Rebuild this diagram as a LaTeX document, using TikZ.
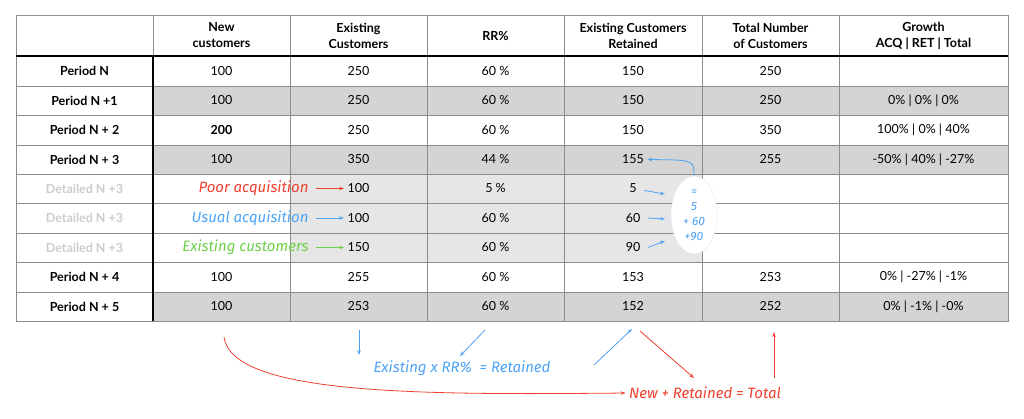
\documentclass[tikz,border=0pt]{standalone}
\usepackage{fontspec}
\setmainfont{Lato}
\newfontfamily\hand{Fira Sans}[ItalicFont={Fira Sans Italic}]
\usetikzlibrary{arrows.meta,shapes.geometric}
\definecolor{gdark}{HTML}{D4D4D4}
\definecolor{glight}{HTML}{E6E6E6}
\definecolor{hred}{HTML}{F0402F}
\definecolor{hblue}{HTML}{4DA3F5}
\definecolor{hgreen}{HTML}{6CD048}
\definecolor{gridc}{HTML}{8C8C8C}
\tikzset{
  cell/.style={font=\fontsize{12.5}{15}\selectfont, align=center, anchor=center},
  hd/.style={cell, font=\fontsize{12.5}{16}\selectfont\bfseries},
  hw/.style={font=\hand\itshape\fontsize{15}{17}\selectfont},
  harr/.style={-{Stealth[length=5pt,width=3.5pt]}, line width=0.8pt}
}
\begin{document}
\begin{tikzpicture}[x=1pt,y=-1pt]
\useasboundingbox (0,0) rectangle (1024,418);
% fills
\foreach \ya/\yb in {86/115,145/174,292/321}{
  \fill[gdark] (153,\ya) rectangle (1008,\yb);}
\fill[glight] (290,174) rectangle (702,262);
% grid
\foreach \x in {290,427,564,702,839}{ \draw[gridc,line width=0.6pt] (\x,15) -- (\x,321);}
\foreach \y in {86,115,145,174,203,233,262,292}{ \draw[gridc,line width=0.6pt] (16,\y) -- (1008,\y);}
\draw[gridc,line width=0.6pt] (16,15) rectangle (1008,321);
\draw[gridc,line width=0.6pt] (153,15) -- (153,56);
\draw[black,line width=1.6pt] (16,56) -- (1008,56);
\draw[black,line width=1.6pt] (153,56) -- (153,321);
% header
\node[hd] (h1) at (221.5,35.5) {New\\customers};
\node[hd] (h2) at (358.5,35.5) {Existing\\Customers};
\node[hd] (h3) at (495.5,35.5) {RR\%};
\node[hd] (h4) at (633,35.5) {Existing Customers\\Retained};
\node[hd] (h5) at (770.5,35.5) {Total Number\\of Customers};
\node[hd] (h6) at (923.5,35.5) {Growth\\ACQ | RET | Total};
% rows
\foreach \y/\lab/\a/\b/\c/\d/\e/\f [count=\i] in {
 71/Period N/100/250/60 \%/150/250/,
 100.5/Period N +1/100/250/60 \%/150/250/0\% | 0\% | 0\%,
 130/Period N + 2/\textbf{200}/250/60 \%/150/350/100\% | 0\% | 40\%,
 159.5/Period N + 3/100/350/44 \%/155/255/-50\% | 40\% | -27\%,
 277/Period N + 4/100/255/60 \%/153/253/0\% | -27\% | -1\%,
 306.5/Period N + 5/100/253/60 \%/152/252/0\% | -1\% | -0\%}{
  \node[hd] (r\i l) at (84.5,\y) {\lab};
  \node[cell] (r\i a) at (221.5,\y) {\a};
  \node[cell] (r\i b) at (358.5,\y) {\b};
  \node[cell] (r\i c) at (495.5,\y) {\c};
  \node[cell] (r\i d) at (633,\y) {\d};
  \node[cell] (r\i e) at (770.5,\y) {\e};
  \node[cell] (r\i f) at (923.5,\y) {\f};
}
% detailed rows
\foreach \y/\b/\c/\d [count=\i] in {188.5/100/5 \%/5, 218/100/60 \%/60, 247.5/150/60 \%/90}{
  \node[hd,text=black!20] (d\i l) at (84.5,\y) {Detailed N +3};
  \node[cell] (d\i b) at (358.5,\y) {\b};
  \node[cell] (d\i c) at (495.5,\y) {\c};
  \node[cell] (d\i d) at (633,\y) {\d};
}
% left handwritten labels
\node[hw,text=hred,anchor=east] (t1) at (312,188.5) {Poor acquisition};
\node[hw,text=hblue,anchor=east] (t2) at (312,218) {Usual acquisition};
\node[hw,text=hgreen,anchor=east] (t3) at (312,247.5) {Existing customers};
\draw[harr,hred] (t1.east) ++(4,0) coordinate (t1s) -- (d1b.west);
\draw[harr,hblue] (t2.east) ++(4,0) coordinate (t2s) -- (d2b.west);
\draw[harr,hgreen] (t3.east) ++(4,0) coordinate (t3s) -- (d3b.west);
% oval
\node[ellipse,draw=hblue!25,fill=white,minimum width=46pt,minimum height=78pt,inner sep=0pt] (ov) at (694,215) {};
\node[hw,text=hblue,align=center,font=\hand\itshape\fontsize{12}{15}\selectfont] (ovt) at (694,215) {=\\5\\+ 60\\+90};
\draw[harr,hblue] (d1d.east) ++(4,2) coordinate (s1) -- (665,194) coordinate (e1);
\draw[harr,hblue] (d2d.east) ++(4,0) coordinate (s2) -- (665,219) coordinate (e2);
\draw[harr,hblue] (d3d.east) ++(4,0) coordinate (s3) -- (665,241) coordinate (e3);
\draw[harr,hblue] (ov.north) .. controls (694,160) .. (r4d.east);
% bottom annotations
\node[hw,text=hblue] (f1) at (462,368) {Existing x RR\%\ \ = Retained};
\node[hw,text=hred] (f2) at (705,393) {New + Retained = Total};
\coordinate (a1) at (359,330); \coordinate (a1e) at (359,355);
\draw[harr,hblue] (a1) -- (a1e);
\coordinate (a2) at (485,330); \coordinate (a2e) at (460,356);
\draw[harr,hblue] (a2) -- (a2e);
\coordinate (a3) at (594,365); \coordinate (a3e) at (632,329);
\draw[harr,hblue] (a3) -- (a3e);
\coordinate (b1) at (640,331); \coordinate (b1e) at (694,378);
\draw[harr,hred] (b1) -- (b1e);
\coordinate (b2) at (774,378); \coordinate (b2e) at (774,332);
\draw[harr,hred] (b2) -- (b2e);
\coordinate (c1) at (224,337);
\draw[harr,hred] (c1) .. controls (232,395) and (420,395) .. (f2.west);
\end{tikzpicture}
\end{document}
